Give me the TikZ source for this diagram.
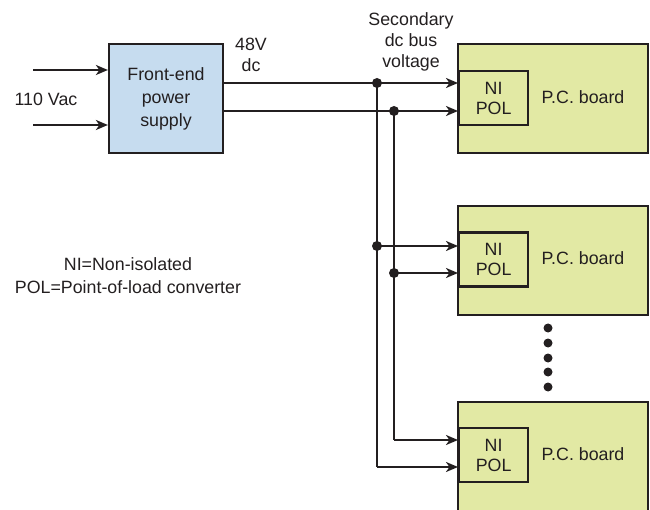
\documentclass[tikz,border=0pt]{standalone}
\usepackage{fontspec}
\setmainfont{Liberation Sans}
\usetikzlibrary{arrows.meta}
\definecolor{linec}{HTML}{231F20}
\definecolor{fefill}{HTML}{C6DCEF}
\definecolor{pcfill}{HTML}{E2E9A4}
\begin{document}
\begin{tikzpicture}[x=1pt,y=-1pt,
  every node/.style={font=\fontsize{17.8}{21}\selectfont, text=linec, inner sep=0pt, align=center},
  febox/.style={draw=linec, line width=2.2pt, fill=fefill, minimum width=114pt, minimum height=109pt, font=\fontsize{17.8}{23}\selectfont},
  pcbox/.style={draw=linec, line width=2.2pt, fill=pcfill, minimum width=190pt, minimum height=109pt},
  polbox/.style={draw=linec, line width=2.2pt, fill=pcfill, minimum width=69pt, minimum height=54pt, font=\fontsize{17.8}{20}\selectfont},
  wire/.style={draw=linec, line width=2.2pt},
  arr/.style={wire, -{Stealth[length=12pt,width=10pt,inset=3.5pt]}},
  junc/.style={circle, fill=linec, minimum size=10pt},
  bigdot/.style={circle, fill=linec, minimum size=9pt}]
\useasboundingbox (0,0) rectangle (650,510);
% front end
\node[febox] (fe) at (166,98.5) {Front-end\\power\\supply};
\coordinate (in1) at (33,70);
\coordinate (in2) at (33,125);
\draw[arr] (in1) -- (fe.west |- in1);
\draw[arr] (in2) -- (fe.west |- in2);
\node (vac) at (46,99) {110 Vac};
\node (v48) at (251,55) {48V\\dc};
\node (sec) at (411,42) {Secondary\\dc bus\\voltage};
\node[font=\fontsize{17.8}{23}\selectfont] (legend) at (128,276) {NI=Non-isolated\\POL=Point-of-load converter};
% boards
\node[pcbox] (b1) at (553,98.5) {};
\node[pcbox] (b2) at (553,260.5) {};
\node[pcbox, minimum height=110pt] (b3) at (553,457) {};
\node[polbox, anchor=west] (p1) at (458,98) {NI\\POL};
\node[polbox, anchor=west] (p2) at (458,259.5) {NI\\POL};
\node[polbox, anchor=west] (p3) at (458,455) {NI\\POL};
\node (t1) at (583,97) {P.C. board};
\node (t2) at (583,258) {P.C. board};
\node (t3) at (583,454) {P.C. board};
% junctions
\node[junc] (j1) at (377,83) {};
\node[junc] (j2) at (394,111) {};
\node[junc] (j3) at (377,246) {};
\node[junc] (j4) at (394,273) {};
\coordinate (c5) at (394,440);
\coordinate (c6) at (377,467);
% bus wires
\draw[arr] (fe.east |- j1) -- (p1.west |- j1);
\draw[arr] (fe.east |- j2) -- (p1.west |- j2);
\draw[arr] (j3.center) -- (p2.west |- j3);
\draw[arr] (j4.center) -- (p2.west |- j4);
\draw[wire] (j1.center) -- (c6);
\draw[wire] (j2.center) -- (c5);
\draw[arr] (c5) -- (p3.west |- c5);
\draw[arr] (c6) -- (p3.west |- c6);
% ellipsis dots
\foreach \yy/\nm in {328/d1,343/d2,358/d3,372/d4,387/d5}
  \node[bigdot] (\nm) at (548,\yy) {};
\end{tikzpicture}
\end{document}
